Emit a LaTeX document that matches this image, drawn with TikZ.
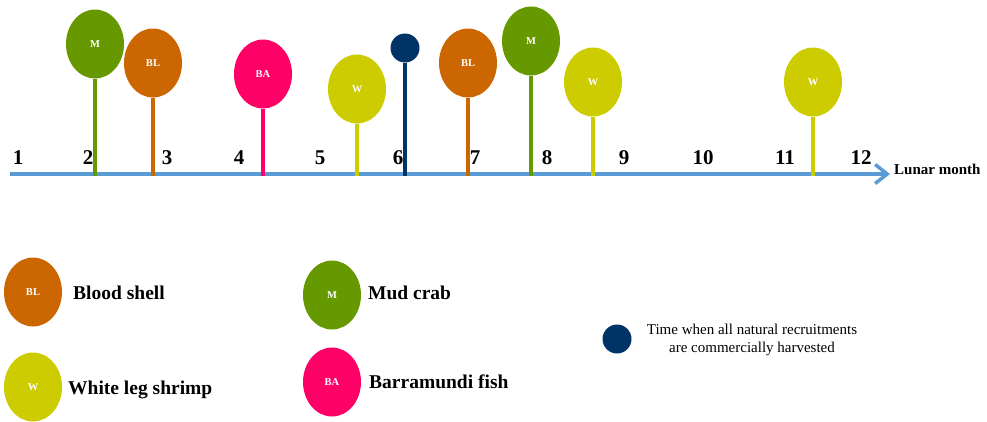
\documentclass[tikz,border=0pt]{standalone}
\usepackage{fontspec}
\setmainfont{Liberation Serif}
\usetikzlibrary{shapes.geometric,arrows.meta}
\definecolor{mgreen}{HTML}{669900}
\definecolor{blorange}{HTML}{CC6600}
\definecolor{bapink}{HTML}{FF0066}
\definecolor{wyellow}{HTML}{CCCC00}
\definecolor{dotblue}{HTML}{003366}
\definecolor{axisblue}{HTML}{5B9BD5}
\tikzset{
  blob/.style={ellipse, minimum width=58pt, minimum height=69pt, inner sep=0pt, text=white,
    font=\fontsize{10.5}{12}\selectfont\bfseries},
  dotnode/.style={circle, minimum size=29pt, inner sep=0pt, fill=dotblue},
  stem/.style={line width=4pt},
  num/.style={font=\fontsize{21}{24}\selectfont\bfseries, anchor=base, inner sep=0pt},
  leg/.style={font=\fontsize{19.5}{22}\selectfont\bfseries, anchor=base west, inner sep=0pt},
  axisline/.style={line width=4pt, draw=axisblue, -{Straight Barb[length=12pt,width=19pt,line width=3.5pt]}}
}
\begin{document}
\begin{tikzpicture}[x=1pt,y=-1pt]
\useasboundingbox (0,0) rectangle (987,421);
% month numbers
\node[num] (n1) at (18,164) {1};
\node[num] (n2) at (88,164) {2};
\node[num] (n3) at (167,164) {3};
\node[num] (n4) at (239,164) {4};
\node[num] (n5) at (320,164) {5};
\node[num] (n6) at (398,164) {6};
\node[num] (n7) at (475,164) {7};
\node[num] (n8) at (547,164) {8};
\node[num] (n9) at (624,164) {9};
\node[num] (n10) at (703,164) {10};
\node[num] (n11) at (785,164) {11};
\node[num] (n12) at (861,164) {12};
% axis
\coordinate (ax0) at (10,174);
\coordinate (ax1) at (890,174);
\draw[axisline] (ax0) -- (ax1);
\node[font=\fontsize{15}{17}\selectfont\bfseries, anchor=base west, inner sep=0pt] (lm) at (894,174) {Lunar month};
% lollipops
\node[blob, fill=mgreen] (m1) at (95,44) {M};
\node[blob, fill=blorange] (bl1) at (153,63) {BL};
\node[blob, fill=bapink] (ba1) at (263,74) {BA};
\node[blob, fill=wyellow] (w1) at (357,89) {W};
\node[dotnode] (d1) at (405,48) {};
\node[blob, fill=blorange] (bl2) at (468,63) {BL};
\node[blob, fill=mgreen] (m2) at (531,41) {M};
\node[blob, fill=wyellow] (w2) at (593,82) {W};
\node[blob, fill=wyellow] (w3) at (813,82) {W};
\coordinate (s1) at (95,176);
\coordinate (s2) at (153,176);
\coordinate (s3) at (263,176);
\coordinate (s4) at (357,176);
\coordinate (s5) at (405,176);
\coordinate (s6) at (468,176);
\coordinate (s7) at (531,176);
\coordinate (s8) at (593,176);
\coordinate (s9) at (813,176);
\draw[stem, mgreen] (m1.south) -- (s1);
\draw[stem, blorange] (bl1.south) -- (s2);
\draw[stem, bapink] (ba1.south) -- (s3);
\draw[stem, wyellow] (w1.south) -- (s4);
\draw[stem, dotblue] (d1.south) -- (s5);
\draw[stem, blorange] (bl2.south) -- (s6);
\draw[stem, mgreen] (m2.south) -- (s7);
\draw[stem, wyellow] (w2.south) -- (s8);
\draw[stem, wyellow] (w3.south) -- (s9);
% legend
\node[blob, fill=blorange] (lbl) at (33,292) {BL};
\node[leg] (tbl) at (73,299) {Blood shell};
\node[blob, fill=wyellow] (lw) at (33,387) {W};
\node[leg] (tw) at (68,394) {White leg shrimp};
\node[blob, fill=mgreen] (lm2) at (332,295) {M};
\node[leg] (tm) at (368,299) {Mud crab};
\node[blob, fill=bapink] (lba) at (332,382) {BA};
\node[leg] (tba) at (369,388) {Barramundi fish};
\node[dotnode] (ld) at (617,339) {};
\node[align=center, inner sep=0pt, font=\fontsize{15}{18}\selectfont] (td) at (752,340) {Time when all natural recruitments\\are commercially harvested};
\end{tikzpicture}
\end{document}
